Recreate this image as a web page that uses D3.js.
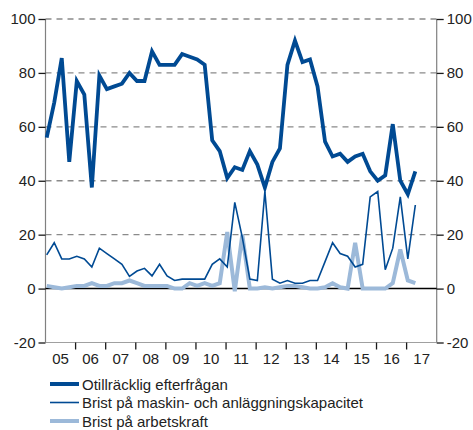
<!DOCTYPE html>
<html>
<head>
<meta charset="utf-8">
<script src="https://cdn.jsdelivr.net/npm/d3@7"></script>
<style>
  body { margin: 0; background: #fff; }
  text { font-family: "Liberation Sans", Arial, sans-serif; fill: #222; }
</style>
</head>
<body>
<div id="chart"></div>
<script>
// quarterly values, 2005 Q1 .. 2017 Q2
var years = ["05","06","07","08","09","10","11","12","13","14","15","16","17"];
var yTicks = [-20, 0, 20, 40, 60, 80, 100];

var efterfragan = [56, 69, 85.5, 47, 77, 72, 37.5, 79, 74, 75, 76, 80, 77, 77, 88, 83, 83, 83, 87, 86,
  85, 83, 55, 51, 41, 45, 44, 51, 46, 37.5, 47, 52, 83, 92, 84, 85, 75, 54.5, 49, 50,
  47, 49, 50, 43.5, 40, 42, 61, 40, 35, 43.5];
var maskin = [12.5, 17, 11, 11, 12, 11, 8, 15, 13, 11, 9, 4.5, 6.5, 7.5, 4.7, 9, 4.7, 3, 3.5, 3.5,
  3.5, 3.5, 9, 11, 8, 32, 19, 3.5, 3, 36, 3.5, 2, 3, 2, 2, 3, 3, 10, 17, 13,
  12, 8, 9, 34, 36, 7, 15, 34, 11, 31];
var arbetskraft = [1, 0.5, 0, 0.5, 1, 1, 2, 1, 1, 2, 2, 3, 2, 1, 1, 1, 1, 0, 0, 2,
  1, 2, 1, 2, 21, -1, 20, 0, 0, 0.5, 0, 0.5, 1, 1, 0.5, 0, 0, 0.5, 2, 0.5,
  0, 17, 0, 0, 0, 0, 2, 14.5, 3, 2];

var seriesNames = ["Otillräcklig efterfrågan", "Brist på maskin- och anläggningskapacitet", "Brist på arbetskraft"];

var width = 473, height = 430;
var plotLeft = 45.5, plotRight = 436.7, plotTop = 19, plotBottom = 342.5;

var svg = d3.select("#chart").append("svg").attr("width", width).attr("height", height);

var x = d3.scaleLinear().domain([2005, 2018]).range([plotLeft, plotRight]);
var y = d3.scaleLinear().domain([-20, 100]).range([plotBottom, plotTop]);

// position of quarter i (points sit a little after the start of each quarter)
var qx = function(d, i) { return x(2005 + i / 4 + 0.04); };

// grid lines
svg.append("g").selectAll("line").data(yTicks.filter(function(v){ return v > 0; }))
  .enter().append("line")
  .attr("x1", plotLeft).attr("x2", plotRight)
  .attr("y1", function(d){ return y(d); }).attr("y2", function(d){ return y(d); })
  .attr("stroke", "#8a8a8a").attr("stroke-width", 1.3).attr("stroke-dasharray", "6,5");

// frame: left, right, bottom
svg.append("line").attr("x1", plotLeft).attr("x2", plotLeft).attr("y1", plotTop).attr("y2", plotBottom)
  .attr("stroke", "#808080").attr("stroke-width", 1.2);
svg.append("line").attr("x1", plotRight).attr("x2", plotRight).attr("y1", plotTop).attr("y2", plotBottom)
  .attr("stroke", "#808080").attr("stroke-width", 1.2);
svg.append("line").attr("x1", plotLeft).attr("x2", plotRight).attr("y1", plotBottom).attr("y2", plotBottom)
  .attr("stroke", "#a0a0a0").attr("stroke-width", 1);

// y axes on both sides
var yLeft = svg.append("g").attr("transform", "translate(" + plotLeft + ",0)")
  .call(d3.axisLeft(y).tickValues(yTicks).tickSize(7).tickPadding(3));
var yRight = svg.append("g").attr("transform", "translate(" + plotRight + ",0)")
  .call(d3.axisRight(y).tickValues(yTicks).tickSize(7).tickPadding(3));
[yLeft, yRight].forEach(function(g) {
  g.select(".domain").remove();
  g.selectAll(".tick line").attr("stroke", "#1a1a1a").attr("stroke-width", 1.3);
  g.selectAll("text").style("font-size", "15px").attr("fill", "#222")
   .style("font-family", "'Liberation Sans', Arial, sans-serif")
   .text(function(d){ return d < 0 ? "-" + Math.abs(d) : d; });
});

// x axis: ticks at year boundaries, labels centred in each year
var xg = svg.append("g").attr("transform", "translate(0," + plotBottom + ")");
xg.selectAll("line").data(d3.range(2006, 2018)).enter().append("line")
  .attr("x1", function(d){ return x(d); }).attr("x2", function(d){ return x(d); })
  .attr("y1", 0).attr("y2", 7).attr("stroke", "#1a1a1a").attr("stroke-width", 1.3);
xg.selectAll("text").data(years).enter().append("text")
  .attr("x", function(d, i){ return x(2005 + i + 0.5); })
  .attr("y", 21).attr("text-anchor", "middle").style("font-size", "15px")
  .text(function(d){ return d; });

// zero line
svg.append("line").attr("x1", plotLeft).attr("x2", plotRight).attr("y1", y(0)).attr("y2", y(0))
  .attr("stroke", "#000").attr("stroke-width", 1.5);

var line = d3.line().x(qx).y(function(d){ return y(d); });

svg.append("path").datum(arbetskraft).attr("d", line)
  .attr("fill", "none").attr("stroke", "#9cb9d9").attr("stroke-width", 4);
svg.append("path").datum(maskin).attr("d", line)
  .attr("fill", "none").attr("stroke", "#004a93").attr("stroke-width", 1.6);
svg.append("path").datum(efterfragan).attr("d", line)
  .attr("fill", "none").attr("stroke", "#004a93").attr("stroke-width", 3.8);

// legend
var legendStyle = [
  { color: "#004a93", w: 4 },
  { color: "#004a93", w: 1.6 },
  { color: "#9cb9d9", w: 4 }
];
var lg = svg.append("g").selectAll("g").data(seriesNames).enter().append("g")
  .attr("transform", function(d, i){ return "translate(50," + (384 + i * 18.5) + ")"; });
lg.append("line").attr("x1", 0).attr("x2", 29).attr("y1", 0).attr("y2", 0)
  .attr("stroke", function(d, i){ return legendStyle[i].color; })
  .attr("stroke-width", function(d, i){ return legendStyle[i].w; });
lg.append("text").attr("x", 32).attr("y", 5.5).style("font-size", "15px")
  .text(function(d){ return d; });
</script>
</body>
</html>
